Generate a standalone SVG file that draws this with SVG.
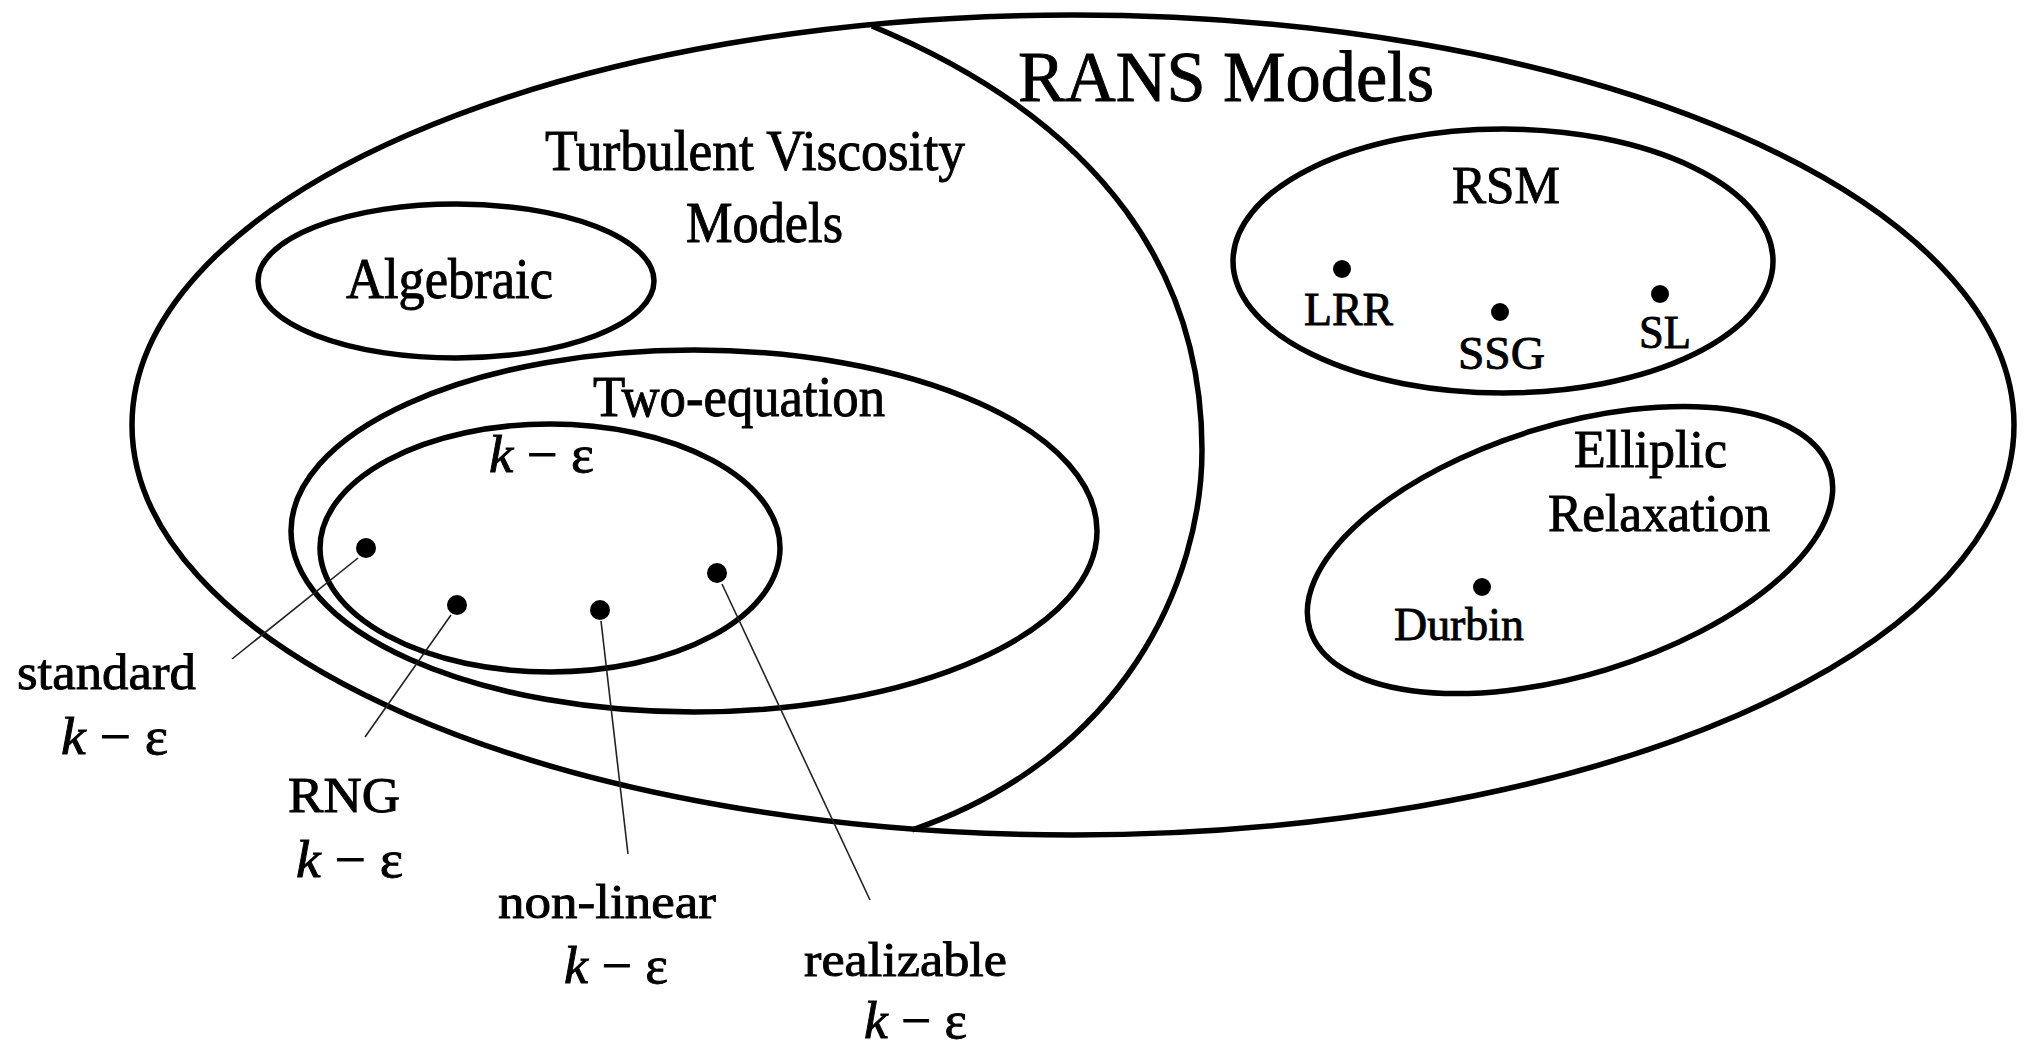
<svg xmlns="http://www.w3.org/2000/svg" width="2027" height="1055" viewBox="0 0 2027 1055">
<style>
.ln{fill:none;stroke:#000;stroke-width:5.5}
.ld{fill:none;stroke:#222;stroke-width:1.6}
.dot{fill:#000}
text{font-family:"Liberation Serif","Times New Roman",serif;fill:#000;stroke:#000;stroke-width:0.9}
.it{font-style:italic}
</style>
<rect width="2027" height="1055" fill="#fff"/>
<g id="rans-models">
<ellipse class="ln" cx="1073" cy="425" rx="941" ry="410"/>
<text x="1018" y="101" font-size="72" textLength="416" lengthAdjust="spacingAndGlyphs">RANS Models</text>
</g>
<g id="turbulent-viscosity-models">
<path class="ln" d="M872,26 C1110,125 1202,280 1202,450 C1202,580 1125,757 912,830"/>
<text x="545" y="170" font-size="56" textLength="420" lengthAdjust="spacingAndGlyphs">Turbulent Viscosity</text>
<text x="686" y="242" font-size="56" textLength="157" lengthAdjust="spacingAndGlyphs">Models</text>
</g>
<g id="algebraic">
<ellipse class="ln" cx="456" cy="281" rx="198" ry="77"/>
<text x="346" y="298" font-size="58" textLength="207" lengthAdjust="spacingAndGlyphs">Algebraic</text>
</g>
<g id="two-equation">
<ellipse class="ln" cx="694" cy="531" rx="403" ry="181"/>
<text x="593" y="416" font-size="56" textLength="292" lengthAdjust="spacingAndGlyphs">Two-equation</text>
</g>
<g id="k-epsilon">
<ellipse class="ln" cx="550" cy="548" rx="230" ry="124"/>
<text x="489" y="472" font-size="52" textLength="105" lengthAdjust="spacingAndGlyphs"><tspan class="it">k</tspan> − ε</text>
</g>
<g id="standard">
<circle class="dot" cx="366" cy="548" r="10"/>
<text x="17" y="689" font-size="50" textLength="179" lengthAdjust="spacingAndGlyphs">standard</text>
<text x="61" y="754" font-size="52" textLength="107" lengthAdjust="spacingAndGlyphs"><tspan class="it">k</tspan> − ε</text>
</g>
<g id="rng">
<circle class="dot" cx="457" cy="605" r="10"/>
<text x="288" y="812" font-size="50" textLength="112" lengthAdjust="spacingAndGlyphs">RNG</text>
<text x="296" y="877" font-size="52" textLength="107" lengthAdjust="spacingAndGlyphs"><tspan class="it">k</tspan> − ε</text>
</g>
<g id="non-linear">
<circle class="dot" cx="600" cy="610" r="10"/>
<text x="498" y="918" font-size="48" textLength="218" lengthAdjust="spacingAndGlyphs">non-linear</text>
<text x="564" y="983" font-size="52" textLength="104" lengthAdjust="spacingAndGlyphs"><tspan class="it">k</tspan> − ε</text>
</g>
<g id="realizable">
<circle class="dot" cx="717" cy="573" r="10"/>
<text x="804" y="976" font-size="48" textLength="203" lengthAdjust="spacingAndGlyphs">realizable</text>
<text x="864" y="1038" font-size="52" textLength="103" lengthAdjust="spacingAndGlyphs"><tspan class="it">k</tspan> − ε</text>
</g>
<g id="rsm">
<ellipse class="ln" cx="1503" cy="261" rx="270" ry="132"/>
<text x="1452" y="203" font-size="52" textLength="108" lengthAdjust="spacingAndGlyphs">RSM</text>
</g>
<g id="lrr">
<circle class="dot" cx="1342" cy="269" r="9"/>
<text x="1304" y="325" font-size="46" textLength="89" lengthAdjust="spacingAndGlyphs">LRR</text>
</g>
<g id="ssg">
<circle class="dot" cx="1500" cy="312" r="9"/>
<text x="1458" y="369" font-size="46" textLength="87" lengthAdjust="spacingAndGlyphs">SSG</text>
</g>
<g id="sl">
<circle class="dot" cx="1660" cy="294" r="9"/>
<text x="1639" y="348" font-size="46" textLength="52" lengthAdjust="spacingAndGlyphs">SL</text>
</g>
<g id="elliptic-relaxation">
<ellipse class="ln" cx="1570" cy="550" rx="272" ry="125" transform="rotate(-17 1570 550)"/>
<text x="1574" y="467" font-size="52" textLength="153" lengthAdjust="spacingAndGlyphs">Elliplic</text>
<text x="1548" y="531" font-size="52" textLength="222" lengthAdjust="spacingAndGlyphs">Relaxation</text>
</g>
<g id="durbin">
<circle class="dot" cx="1482" cy="587" r="9"/>
<text x="1394" y="640" font-size="46" textLength="130" lengthAdjust="spacingAndGlyphs">Durbin</text>
</g>
<g id="connectors">
<line class="ld" x1="358" y1="558" x2="232" y2="659"/>
<line class="ld" x1="451" y1="615" x2="365" y2="737"/>
<line class="ld" x1="601" y1="621" x2="628" y2="854"/>
<line class="ld" x1="722" y1="584" x2="870" y2="900"/>
</g>
</svg>
